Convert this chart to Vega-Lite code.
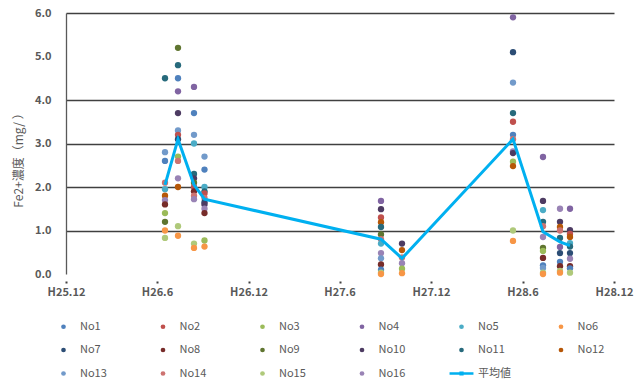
{
  "$schema": "https://vega.github.io/schema/vega-lite/v6.json",
  "width": 548,
  "height": 261,
  "autosize": {"type": "none"},
  "padding": {"left": 66, "top": 13, "right": 20, "bottom": 109},
  "background": "white",
  "config": {"view": {"stroke": null}, "font": "Noto Sans CJK JP"},
  "datasets": {
    "pts": [
      {"date": "2014-06-17", "series": "No11", "value": 4.5},
      {"date": "2014-06-17", "series": "No13", "value": 2.8},
      {"date": "2014-06-17", "series": "No1", "value": 2.6},
      {"date": "2014-06-17", "series": "No14", "value": 2.1},
      {"date": "2014-06-17", "series": "No5", "value": 1.95},
      {"date": "2014-06-17", "series": "No12", "value": 1.8},
      {"date": "2014-06-17", "series": "No16", "value": 1.7},
      {"date": "2014-06-17", "series": "No8", "value": 1.6},
      {"date": "2014-06-17", "series": "No3", "value": 1.4},
      {"date": "2014-06-17", "series": "No9", "value": 1.2},
      {"date": "2014-06-17", "series": "No6", "value": 1.0},
      {"date": "2014-06-17", "series": "No15", "value": 0.83},
      {"date": "2014-07-13", "series": "No9", "value": 5.2},
      {"date": "2014-07-13", "series": "No11", "value": 4.8},
      {"date": "2014-07-13", "series": "No1", "value": 4.5},
      {"date": "2014-07-13", "series": "No4", "value": 4.2},
      {"date": "2014-07-13", "series": "No10", "value": 3.7},
      {"date": "2014-07-13", "series": "No13", "value": 3.3},
      {"date": "2014-07-13", "series": "No2", "value": 3.2},
      {"date": "2014-07-13", "series": "No7", "value": 3.1},
      {"date": "2014-07-13", "series": "No3", "value": 2.7},
      {"date": "2014-07-13", "series": "No14", "value": 2.6},
      {"date": "2014-07-13", "series": "No16", "value": 2.2},
      {"date": "2014-07-13", "series": "No12", "value": 2.0},
      {"date": "2014-07-13", "series": "No15", "value": 1.1},
      {"date": "2014-07-13", "series": "No6", "value": 0.88},
      {"date": "2014-08-14", "series": "No4", "value": 4.3},
      {"date": "2014-08-14", "series": "No1", "value": 3.7},
      {"date": "2014-08-14", "series": "No13", "value": 3.2},
      {"date": "2014-08-14", "series": "No5", "value": 3.0},
      {"date": "2014-08-14", "series": "No11", "value": 2.3},
      {"date": "2014-08-14", "series": "No10", "value": 2.2},
      {"date": "2014-08-14", "series": "No9", "value": 2.1},
      {"date": "2014-08-14", "series": "No2", "value": 2.0},
      {"date": "2014-08-14", "series": "No8", "value": 1.9},
      {"date": "2014-08-14", "series": "No14", "value": 1.8},
      {"date": "2014-08-14", "series": "No16", "value": 1.72},
      {"date": "2014-08-14", "series": "No15", "value": 0.7},
      {"date": "2014-08-14", "series": "No6", "value": 0.6},
      {"date": "2014-09-04", "series": "No13", "value": 2.7},
      {"date": "2014-09-04", "series": "No1", "value": 2.4},
      {"date": "2014-09-04", "series": "No5", "value": 2.0},
      {"date": "2014-09-04", "series": "No11", "value": 1.9},
      {"date": "2014-09-04", "series": "No2", "value": 1.85},
      {"date": "2014-09-04", "series": "No14", "value": 1.75},
      {"date": "2014-09-04", "series": "No7", "value": 1.65},
      {"date": "2014-09-04", "series": "No10", "value": 1.6},
      {"date": "2014-09-04", "series": "No16", "value": 1.5},
      {"date": "2014-09-04", "series": "No8", "value": 1.4},
      {"date": "2014-09-04", "series": "No3", "value": 0.77},
      {"date": "2014-09-04", "series": "No6", "value": 0.63},
      {"date": "2015-08-23", "series": "No4", "value": 1.68},
      {"date": "2015-08-23", "series": "No10", "value": 1.49},
      {"date": "2015-08-23", "series": "No2", "value": 1.3},
      {"date": "2015-08-23", "series": "No12", "value": 1.19},
      {"date": "2015-08-23", "series": "No11", "value": 1.08},
      {"date": "2015-08-23", "series": "No9", "value": 0.91},
      {"date": "2015-08-23", "series": "No14", "value": 0.8},
      {"date": "2015-08-23", "series": "No5", "value": 0.7},
      {"date": "2015-08-23", "series": "No16", "value": 0.48},
      {"date": "2015-08-23", "series": "No13", "value": 0.36},
      {"date": "2015-08-23", "series": "No8", "value": 0.22},
      {"date": "2015-08-23", "series": "No1", "value": 0.1},
      {"date": "2015-08-23", "series": "No15", "value": 0.03},
      {"date": "2015-08-23", "series": "No6", "value": 0.0},
      {"date": "2015-10-04", "series": "No10", "value": 0.7},
      {"date": "2015-10-04", "series": "No12", "value": 0.55},
      {"date": "2015-10-04", "series": "No14", "value": 0.38},
      {"date": "2015-10-04", "series": "No16", "value": 0.25},
      {"date": "2015-10-04", "series": "No3", "value": 0.12},
      {"date": "2015-10-04", "series": "No6", "value": 0.02},
      {"date": "2016-05-13", "series": "No4", "value": 5.9},
      {"date": "2016-05-13", "series": "No7", "value": 5.1},
      {"date": "2016-05-13", "series": "No13", "value": 4.4},
      {"date": "2016-05-13", "series": "No11", "value": 3.7},
      {"date": "2016-05-13", "series": "No2", "value": 3.5},
      {"date": "2016-05-13", "series": "No1", "value": 3.2},
      {"date": "2016-05-13", "series": "No14", "value": 3.1},
      {"date": "2016-05-13", "series": "No16", "value": 2.82},
      {"date": "2016-05-13", "series": "No10", "value": 2.78},
      {"date": "2016-05-13", "series": "No3", "value": 2.58},
      {"date": "2016-05-13", "series": "No12", "value": 2.48},
      {"date": "2016-05-13", "series": "No15", "value": 1.0},
      {"date": "2016-05-13", "series": "No6", "value": 0.76},
      {"date": "2016-07-12", "series": "No4", "value": 2.69},
      {"date": "2016-07-12", "series": "No10", "value": 1.68},
      {"date": "2016-07-12", "series": "No5", "value": 1.47},
      {"date": "2016-07-12", "series": "No11", "value": 1.2},
      {"date": "2016-07-12", "series": "No14", "value": 1.1},
      {"date": "2016-07-12", "series": "No16", "value": 0.85},
      {"date": "2016-07-12", "series": "No9", "value": 0.6},
      {"date": "2016-07-12", "series": "No3", "value": 0.53},
      {"date": "2016-07-12", "series": "No8", "value": 0.37},
      {"date": "2016-07-12", "series": "No1", "value": 0.2},
      {"date": "2016-07-12", "series": "No13", "value": 0.14},
      {"date": "2016-07-12", "series": "No15", "value": 0.03},
      {"date": "2016-07-12", "series": "No6", "value": 0.0},
      {"date": "2016-08-15", "series": "No16", "value": 1.5},
      {"date": "2016-08-15", "series": "No10", "value": 1.2},
      {"date": "2016-08-15", "series": "No12", "value": 1.08},
      {"date": "2016-08-15", "series": "No14", "value": 1.0},
      {"date": "2016-08-15", "series": "No11", "value": 0.83},
      {"date": "2016-08-15", "series": "No4", "value": 0.62},
      {"date": "2016-08-15", "series": "No7", "value": 0.48},
      {"date": "2016-08-15", "series": "No1", "value": 0.28},
      {"date": "2016-08-15", "series": "No8", "value": 0.18},
      {"date": "2016-08-15", "series": "No15", "value": 0.07},
      {"date": "2016-08-15", "series": "No6", "value": 0.03},
      {"date": "2016-09-04", "series": "No4", "value": 1.5},
      {"date": "2016-09-04", "series": "No10", "value": 1.01},
      {"date": "2016-09-04", "series": "No2", "value": 0.92},
      {"date": "2016-09-04", "series": "No12", "value": 0.85},
      {"date": "2016-09-04", "series": "No5", "value": 0.71},
      {"date": "2016-09-04", "series": "No11", "value": 0.63},
      {"date": "2016-09-04", "series": "No7", "value": 0.48},
      {"date": "2016-09-04", "series": "No16", "value": 0.35},
      {"date": "2016-09-04", "series": "No8", "value": 0.18},
      {"date": "2016-09-04", "series": "No1", "value": 0.13},
      {"date": "2016-09-04", "series": "No15", "value": 0.03}
    ],
    "avg": [
      {"date": "2014-06-17", "avg": 2.05},
      {"date": "2014-07-13", "avg": 3.1},
      {"date": "2014-08-14", "avg": 2.05},
      {"date": "2014-09-04", "avg": 1.72},
      {"date": "2015-08-23", "avg": 0.8},
      {"date": "2015-10-04", "avg": 0.36},
      {"date": "2016-05-13", "avg": 3.1},
      {"date": "2016-07-12", "avg": 0.97},
      {"date": "2016-08-15", "avg": 0.74},
      {"date": "2016-09-04", "avg": 0.65}
    ]
  },
  "layer": [
    {
      "data": {"name": "pts"},
      "mark": {"type": "point", "filled": true, "opacity": 1, "size": 40},
      "encoding": {
        "x": {
          "field": "date",
          "type": "temporal",
          "scale": {"type": "utc", "domain": [{"year": 2013, "month": 12, "date": 1, "utc": true}, {"year": 2016, "month": 12, "date": 1, "utc": true}]},
          "axis": {
            "title": null,
            "values": [
              {"year": 2013, "month": 12, "date": 1, "utc": true},
              {"year": 2014, "month": 6, "date": 1, "utc": true},
              {"year": 2014, "month": 12, "date": 1, "utc": true},
              {"year": 2015, "month": 6, "date": 1, "utc": true},
              {"year": 2015, "month": 12, "date": 1, "utc": true},
              {"year": 2016, "month": 6, "date": 1, "utc": true},
              {"year": 2016, "month": 12, "date": 1, "utc": true}
            ],
            "labelExpr": "'H' + (utcyear(datum.value) - 1988) + '.' + (utcmonth(datum.value) + 1)",
            "domain": false,
            "grid": false,
            "tickSize": 9,
            "tickWidth": 2,
            "tickDash": [0, 7, 2, 20],
            "tickColor": "#404040",
            "labelPadding": 3,
            "labelFontSize": 11,
            "labelFontWeight": "bold",
            "labelColor": "#595959",
            "labelFlush": false,
            "labelOverlap": false
          }
        },
        "y": {
          "field": "value",
          "type": "quantitative",
          "scale": {"domain": [0, 6], "nice": false},
          "axis": {
            "title": "Fe2+濃度（mg/ ）",
            "values": [0, 1, 2, 3, 4, 5, 6],
            "format": ".1f",
            "ticks": false,
            "tickSize": 0,
            "labelPadding": 15,
            "labelFontSize": 11,
            "labelFontWeight": "bold",
            "labelColor": "#595959",
            "domainColor": "#595959",
            "domainWidth": 1.3,
            "gridColor": "#404040",
            "gridWidth": 1.3,
            "gridOpacity": {"condition": {"test": "datum.value === 5 || datum.value === 0", "value": 0}, "value": 1},
            "titleFontSize": 12,
            "titleFontWeight": "normal",
            "titleColor": "#595959",
            "titleX": -48,
            "titleY": 144,
            "titleAlign": "center",
            "titleBaseline": "middle"
          }
        },
        "color": {
          "field": "series",
          "type": "nominal",
          "scale": {
            "domain": ["No1", "No2", "No3", "No4", "No5", "No6", "No7", "No8", "No9", "No10", "No11", "No12", "No13", "No14", "No15", "No16", "平均値"],
            "range": ["#4F81BD", "#C0504D", "#9BBB59", "#8064A2", "#4BACC6", "#F79646", "#2C4D75", "#772C2A", "#5F7530", "#4D3B62", "#276A7C", "#B65708", "#729ACA", "#CD7371", "#AFC97A", "#9983B5", "#00B0F0"]
          },
          "legend": {
            "title": null,
            "orient": "none",
            "legendX": -8,
            "legendY": 308,
            "columns": 6,
            "direction": "horizontal",
            "gridAlign": "all",
            "columnPadding": 37.5,
            "rowPadding": 11.5,
            "padding": 0,
            "symbolSize": 22,
            "symbolStrokeWidth": 0,
            "labelFontSize": 11,
            "labelColor": "#595959",
            "labelOffset": 11
          }
        },
        "shape": {
          "field": "series",
          "type": "nominal",
          "scale": {
            "domain": ["No1", "No2", "No3", "No4", "No5", "No6", "No7", "No8", "No9", "No10", "No11", "No12", "No13", "No14", "No15", "No16", "平均値"],
            "range": ["circle", "circle", "circle", "circle", "circle", "circle", "circle", "circle", "circle", "circle", "circle", "circle", "circle", "circle", "circle", "circle", "M-5.1,-0.5H5.1V0.5H-5.1Z M-0.9,-0.9H0.9V0.9H-0.9Z"]
          }
        }
      }
    },
    {
      "data": {"name": "avg"},
      "mark": {"type": "line", "color": "#00B0F0", "strokeWidth": 3},
      "encoding": {
        "x": {"field": "date", "type": "temporal"},
        "y": {"field": "avg", "type": "quantitative"}
      }
    }
  ]
}
